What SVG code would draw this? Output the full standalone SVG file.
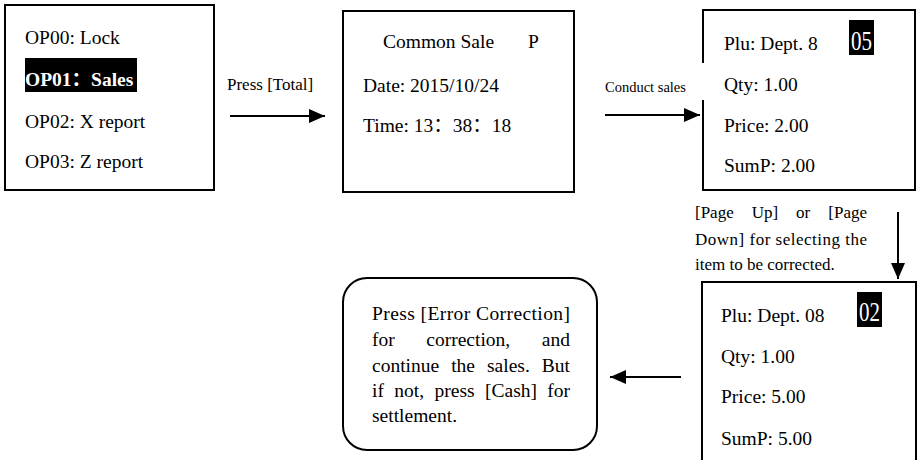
<svg xmlns="http://www.w3.org/2000/svg" width="922" height="460" viewBox="0 0 922 460" font-family="'Liberation Serif', 'Times New Roman', 'DejaVu Serif', serif">
<defs>
<style>
text{font-family:'Liberation Serif','Times New Roman','DejaVu Serif',serif;fill:#000}
.cjk{font-family:'Noto Sans CJK SC',sans-serif}
.t{font-size:19.5px}
.s{font-size:17px}
.c{font-size:14.5px}
.box{fill:#fff;stroke:#000;stroke-width:2}
.ln{fill:none;stroke:#000;stroke-width:2}
.hl{fill:#000}
.w{fill:#fff}
.b{font-weight:bold}
</style>
<marker id="ah" markerWidth="16" markerHeight="14" refX="16" refY="7" orient="auto" markerUnits="userSpaceOnUse"><path d="M0,0 L16,7 L0,14 z" fill="#000"/></marker>
</defs>
<rect width="922" height="460" fill="#fff"/>
<g id="connectors">
<line class="ln" x1="230" y1="116" x2="325" y2="116" marker-end="url(#ah)"/>
<line class="ln" x1="605" y1="115" x2="700" y2="115" marker-end="url(#ah)"/>
<line class="ln" x1="898" y1="212" x2="898" y2="279" marker-end="url(#ah)"/>
<line class="ln" x1="681" y1="377" x2="610" y2="377" marker-end="url(#ah)"/>
<text class="s" x="227" y="90">Press [Total]</text>
<text class="c" x="605" y="92">Conduct sales</text>
<g id="note">
<text class="s" x="695" y="218">[Page</text>
<text class="s" x="751.7" y="218">Up]</text>
<text class="s" x="796" y="218">or</text>
<text class="s" x="867" y="218" text-anchor="end">[Page</text>
<text class="s" x="695" y="245" textLength="172" lengthAdjust="spacing">Down] for selecting the</text>
<text class="s" x="695" y="270">item to be corrected.</text>
</g>
</g>
<g id="menu">
<rect class="box" x="5" y="5" width="209" height="185"/>
<text class="t" x="25" y="44">OP00: Lock</text>
<rect class="hl" x="25" y="58" width="112" height="34"/>
<text class="t b w" x="25" y="86">OP01<tspan class="cjk">：</tspan>Sales</text>
<text class="t" x="25" y="128">OP02: X report</text>
<text class="t" x="25" y="168">OP03: Z report</text>
</g>
<g id="common-sale">
<rect class="box" x="343" y="11" width="231" height="181"/>
<text class="t" x="383" y="48">Common Sale</text>
<text class="t" x="528" y="48">P</text>
<text class="t" x="363" y="92">Date: 2015/10/24</text>
<text class="t" x="363" y="132">Time: 13<tspan class="cjk">：</tspan>38<tspan class="cjk">：</tspan>18</text>
</g>
<g id="sale-05">
<rect x="703" y="10" width="212" height="180" fill="#fff"/>
<path class="ln" d="M703,63 V10 H915 V190 H703 V100"/>
<text class="t" x="724" y="50">Plu: Dept. 8</text>
<rect class="hl" x="849" y="20" width="25" height="35"/>
<text class="w" font-size="21" transform="translate(851,50) scale(1,1.25)">05</text>
<text class="t" x="724" y="91">Qty: 1.00</text>
<text class="t" x="724" y="132">Price: 2.00</text>
<text class="t" x="724" y="172">SumP: 2.00</text>
</g>
<g id="sale-02">
<rect class="box" x="702" y="282" width="214" height="190"/>
<text class="t" x="721" y="322">Plu: Dept. 08</text>
<rect class="hl" x="857" y="292" width="25" height="35"/>
<text class="w" font-size="21" transform="translate(859,321) scale(1,1.25)">02</text>
<text class="t" x="721" y="363">Qty: 1.00</text>
<text class="t" x="721" y="403">Price: 5.00</text>
<text class="t" x="721" y="445">SumP: 5.00</text>
</g>
<g id="correction">
<rect class="box" x="343" y="278" width="254" height="172" rx="24" ry="24"/>
<text class="t" x="372" y="320" textLength="198" lengthAdjust="spacing">Press [Error Correction]</text>
<text class="t" x="372" y="346">for</text>
<text class="t" x="426.3" y="346">correction,</text>
<text class="t" x="570" y="346" text-anchor="end">and</text>
<text class="t" x="372" y="372">continue</text>
<text class="t" x="451.2" y="372">the</text>
<text class="t" x="487" y="372">sales.</text>
<text class="t" x="570" y="372" text-anchor="end">But</text>
<text class="t" x="372" y="397">if</text>
<text class="t" x="394.3" y="397">not,</text>
<text class="t" x="434.5" y="397">press</text>
<text class="t" x="485" y="397">[Cash]</text>
<text class="t" x="570" y="397" text-anchor="end">for</text>
<text class="t" x="372" y="422">settlement.</text>
</g>
</svg>
